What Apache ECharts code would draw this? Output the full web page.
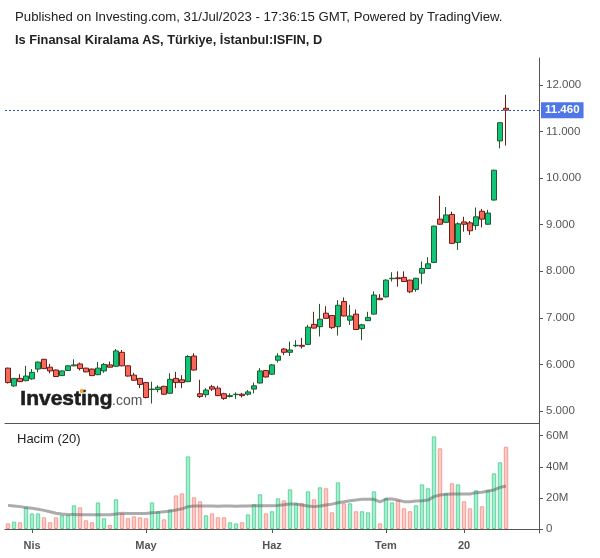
<!DOCTYPE html>
<html><head><meta charset="utf-8">
<script src="https://cdn.jsdelivr.net/npm/echarts@6/dist/echarts.min.js"></script>
<style>html,body{margin:0;padding:0;background:#fff}#c{width:600px;height:558px}</style>
</head><body><div id="c"></div>
<script>
const dates = [
'2023-03-28','2023-03-29','2023-03-30','2023-03-31',
'2023-04-03','2023-04-04','2023-04-05','2023-04-06','2023-04-07','2023-04-10','2023-04-11','2023-04-12','2023-04-13','2023-04-14','2023-04-17','2023-04-18','2023-04-19','2023-04-20','2023-04-24','2023-04-25','2023-04-26','2023-04-27','2023-04-28',
'2023-05-02','2023-05-03','2023-05-04','2023-05-05','2023-05-08','2023-05-09','2023-05-10','2023-05-11','2023-05-12','2023-05-15','2023-05-16','2023-05-17','2023-05-18','2023-05-22','2023-05-23','2023-05-24','2023-05-25','2023-05-26','2023-05-29','2023-05-30','2023-05-31',
'2023-06-01','2023-06-02','2023-06-05','2023-06-06','2023-06-07','2023-06-08','2023-06-09','2023-06-12','2023-06-13','2023-06-14','2023-06-15','2023-06-16','2023-06-19','2023-06-20','2023-06-21','2023-06-22','2023-06-23','2023-06-26','2023-06-27',
'2023-07-03','2023-07-04','2023-07-05','2023-07-06','2023-07-07','2023-07-10','2023-07-11','2023-07-12','2023-07-13','2023-07-14','2023-07-17','2023-07-18','2023-07-19','2023-07-20','2023-07-21','2023-07-24','2023-07-25','2023-07-26','2023-07-27','2023-07-28','2023-07-31'];

const open = [5.92,5.54,5.70,5.65,5.69,5.90,6.11,5.94,5.88,5.76, 5.87,5.97,6.01,5.92,5.90,5.78,5.86,5.99,5.96,6.26, 5.97,5.77,5.70,5.61,5.46,5.46,5.53,5.38,5.70,5.67, 5.63,6.18,5.37,5.35,5.52,5.49,5.37,5.31,5.35,5.36, 5.36,5.47,5.60,5.87,5.79,6.09,6.33,6.26,6.40,6.41, 6.43,6.86,6.81,7.10,7.05,6.81,7.35,6.95,7.08,6.77, 6.94,7.08,7.42,7.45,7.84,7.86,7.87,7.81,7.61,7.96, 8.06,8.19,9.12,9.05,9.22,8.62,9.06,9.04,8.98,9.29, 9.01,9.53,10.80,11.50];
const close = [5.61,5.70,5.63,5.75,5.83,6.05,5.91,5.86,5.74,5.86, 5.97,5.99,5.91,5.84,5.76,5.92,6.00,5.94,6.29,5.97, 5.75,5.66,5.57,5.29,5.47,5.51,5.36,5.68,5.61,5.61, 6.17,5.88,5.31,5.45,5.47,5.33,5.27,5.33,5.36,5.33, 5.41,5.54,5.86,5.73,5.99,6.18,6.26,6.31,6.41,6.39, 6.80,6.78,6.97,6.99,6.79,7.27,7.04,7.04,6.75,6.85, 7.01,7.49,7.39,7.81,7.85,7.84,7.78,7.56,7.85,8.06, 8.16,8.97,9.01,9.21,8.60,9.02,9.01,8.87,9.17,9.12, 9.25,10.17,11.19,11.46];
const low = [5.59,5.52,5.62,5.64,5.67,5.83,5.90,5.81,5.73,5.75, 5.86,5.96,5.87,5.83,5.75,5.77,5.82,5.93,5.95,5.96, 5.74,5.65,5.49,5.27,5.16,5.40,5.35,5.37,5.49,5.49, 5.62,5.87,5.28,5.29,5.43,5.32,5.24,5.29,5.26,5.29, 5.33,5.38,5.59,5.72,5.78,6.04,6.20,6.18,6.37,6.34, 6.42,6.77,6.60,6.98,6.76,6.62,7.03,6.85,6.74,6.52, 6.93,7.07,7.38,7.44,7.78,7.67,7.77,7.53,7.56,7.73, 8.05,8.18,9.00,9.04,8.59,8.46,8.85,8.78,8.89,8.94, 9.00,9.52,10.64,10.70];
const high = [5.93,5.71,5.79,5.97,5.90,6.06,6.12,6.01,5.89,5.87, 5.98,6.11,6.04,5.93,5.91,6.05,6.03,6.06,6.33,6.31, 5.98,5.82,5.71,5.62,5.63,5.55,5.54,5.81,5.84,5.77, 6.20,6.24,5.67,5.49,5.56,5.54,5.39,5.38,5.40,5.39, 5.45,5.61,5.92,5.88,6.01,6.24,6.35,6.49,6.52,6.57, 6.85,7.13,7.30,7.25,7.06,7.38,7.44,7.28,7.18,6.87, 7.13,7.57,7.51,7.83,7.98,8.00,8.00,7.82,7.86,8.21, 8.30,8.98,9.62,9.38,9.28,9.05,9.17,9.08,9.37,9.34, 9.32,10.18,11.20,11.79];
// volume in millions
const volume = [3.6,4.7,4.3,13.9,10.0,10.0,7.5,4.3,7.5,8.8, 8.8,15.2,13.9,5.6,4.3,17.1,6.9,2.6,19.1,10.0, 6.9,8.1,7.5,6.9,17.1,11.4,6.2,12.6,21.6,22.9, 46.7,20.4,17.8,8.8,10.0,7.5,7.5,4.3,3.6,4.3, 9.4,15.9,22.3,10.0,11.4,19.7,18.4,25.5,16.5,16.5, 24.2,19.1,26.8,26.2,10.7,30.0,16.5,16.5,11.4,11.4, 10.7,24.2,3.6,19.7,17.1,18.4,13.3,11.4,15.2,28.7, 26.2,59.6,51.9,22.9,29.4,28.7,17.8,13.3,24.9,14.6, 24.9,35.8,42.9,52.949];
// 20-period volume average (millions)
const volumeMA = [15.2,14.8,14.4,13.9,13.3,12.7,12.0,11.1,10.1,9.7, 9.4,9.3,9.2,9.2,9.2,9.2,9.2,9.2,9.6,10.1, 10.0,9.9,9.9,10.0,10.5,10.7,11.1,11.5,12.2,13.0, 14.4,14.8,14.8,14.8,14.8,14.6,14.8,14.8,14.6,14.8, 14.8,15.0,15.0,15.0,15.0,15.2,15.6,16.1,16.1,15.4, 14.8,14.4,14.8,15.4,16.0,16.9,17.5,18.2,18.6,19.1, 19.1,19.1,17.4,19.3,19.3,18.6,17.6,17.6,18.0,18.2, 18.6,20.8,21.9,22.3,22.5,22.5,22.5,22.5,23.4,23.6, 24.4,25.1,26.8,27.64];

const xTickLabels = {'2023-04-03':'Nis','2023-05-02':'May','2023-06-01':'Haz','2023-07-03':'Tem','2023-07-20':'20'};
const priceTicks = [5,6,7,8,9,10,11,12];
const volumeTicks = [0,20,40,60];

const padCount = 5;
const cats = dates.concat(Array.from({length: padCount}, (_, k) => 'pad' + k));
const n = dates.length;
const FONT = '"Liberation Sans", Arial, sans-serif';
const isTick = (idx) => xTickLabels[cats[idx]] !== undefined;

const candleData = dates.map((d, i) => [open[i], close[i], low[i], high[i]]);
const volData = volume.map((v, i) => ({
  value: v,
  itemStyle: close[i] >= open[i]
    ? {color: '#a6ecce', borderColor: '#5ed69f'}
    : {color: '#ffcbc7', borderColor: '#f59b95'}
}));

const chart = echarts.init(document.getElementById('c'), null, {renderer: 'canvas'});
const GL = 5, GW = 534;
chart.setOption({
  animation: false,
  backgroundColor: '#ffffff',
  textStyle: {fontFamily: FONT},
  grid: [
    {left: GL, width: GW, top: 58, height: 365},
    {left: GL, width: GW, top: 423, height: 110}
  ],
  xAxis: [
    {type: 'category', gridIndex: 0, data: cats, boundaryGap: true,
     axisLine: {show: true, lineStyle: {color: '#555', width: 1}},
     axisTick: {show: false}, axisLabel: {show: false}, splitLine: {show: false}},
    {type: 'category', gridIndex: 1, data: cats, boundaryGap: true,
     axisLine: {show: true, lineStyle: {color: '#555', width: 1}},
     axisTick: {show: true, interval: (idx) => isTick(idx), alignWithLabel: true, length: 4, lineStyle: {color: '#555'}},
     axisLabel: {show: true, interval: (idx) => isTick(idx), formatter: (v) => xTickLabels[v] || '',
       color: '#555', fontSize: 11, fontWeight: 'bold', fontFamily: FONT, margin: 7},
     splitLine: {show: false}}
  ],
  yAxis: [
    {type: 'value', gridIndex: 0, position: 'right', min: 4.742, max: 12.58, scale: true,
     axisLine: {show: true, lineStyle: {color: '#555', width: 1}},
     axisTick: {show: true, length: 4, customValues: priceTicks, lineStyle: {color: '#555'}},
     axisLabel: {show: true, customValues: priceTicks, formatter: (v) => v.toFixed(3),
       color: '#555', fontSize: 11.5, fontFamily: FONT, margin: 7},
     splitLine: {show: false}},
    {type: 'value', gridIndex: 1, position: 'right', min: -2.57, max: 68.2,
     axisLine: {show: true, lineStyle: {color: '#555', width: 1}},
     axisTick: {show: true, length: 4, customValues: volumeTicks, lineStyle: {color: '#555'}},
     axisLabel: {show: true, customValues: volumeTicks, formatter: (v) => v === 0 ? '0' : v + 'M',
       color: '#555', fontSize: 11.5, fontFamily: FONT, margin: 7},
     splitLine: {show: false}}
  ],
  series: [
    {type: 'candlestick', xAxisIndex: 0, yAxisIndex: 0, data: candleData, barWidth: 5,
     itemStyle: {color: '#12c47a', color0: '#f7685b', borderColor: '#1f5a2c', borderColor0: '#6e1c18', borderWidth: 1},
     markLine: {silent: true, symbol: 'none', animation: false,
       lineStyle: {color: '#3550c0', type: [2, 2], width: 1},
       label: {position: 'end', distance: 2, formatter: () => close[n - 1].toFixed(3),
         backgroundColor: '#4f78e6', color: '#fff', fontWeight: 'bold', fontSize: 11.5, fontFamily: FONT, padding: [2, 4, 2, 4]},
       data: [{yAxis: close[n - 1]}]}},
    {type: 'bar', xAxisIndex: 1, yAxisIndex: 1, data: volData, barWidth: 4.4,
     itemStyle: {borderWidth: 1},
     markLine: {silent: true, symbol: 'none', animation: false,
       lineStyle: {opacity: 0},
       label: {position: 'end', distance: 1, formatter: () => volume[n - 1].toFixed(3) + 'M',
         backgroundColor: '#f7675a', color: '#fff', fontWeight: 'bold', fontSize: 11.5, fontFamily: FONT, padding: [2, 3, 2, 3]},
       data: [{yAxis: volume[n - 1]}]}},
    {type: 'line', xAxisIndex: 1, yAxisIndex: 1, data: volumeMA, showSymbol: false, symbol: 'none',
     lineStyle: {color: 'rgba(90,90,90,0.5)', width: 3}, z: 3,
     markLine: {silent: true, symbol: 'none', animation: false,
       lineStyle: {opacity: 0},
       label: {position: 'end', distance: 2, formatter: () => volumeMA[n - 1].toFixed(2) + 'M',
         backgroundColor: '#000', color: '#fff', fontWeight: 'bold', fontSize: 11.5, fontFamily: FONT, padding: [2, 3, 2, 3]},
       data: [{yAxis: volumeMA[n - 1]}]}}
  ],
  graphic: [
    {type: 'text', left: 15, top: 11, style: {text: 'Published on Investing.com, 31/Jul/2023 - 17:36:15 GMT, Powered by TradingView.', font: '13.2px ' + FONT, fill: '#222'}},
    {type: 'text', left: 15, top: 34, style: {text: 'Is Finansal Kiralama AS, Türkiye, İstanbul:ISFIN, D', font: 'bold 12.8px ' + FONT, fill: '#222'}},
    {type: 'text', left: 17, top: 433, style: {text: 'Hacim (20)', font: '13px ' + FONT, fill: '#222'}},
    {type: 'text', left: 20, top: 388, z: 10, style: {text: 'Investing', font: 'bold 21px ' + FONT, fill: '#1e1e1e', stroke: '#1e1e1e', lineWidth: 0.6}},
    {type: 'text', left: 112, top: 394, z: 10, style: {text: '.com', font: '14px ' + FONT, fill: '#555'}},
    {type: 'circle', shape: {cx: 81.7, cy: 391, r: 2}, z: 11, style: {fill: '#f7a21b'}}
  ]
});
</script>
</body></html>
